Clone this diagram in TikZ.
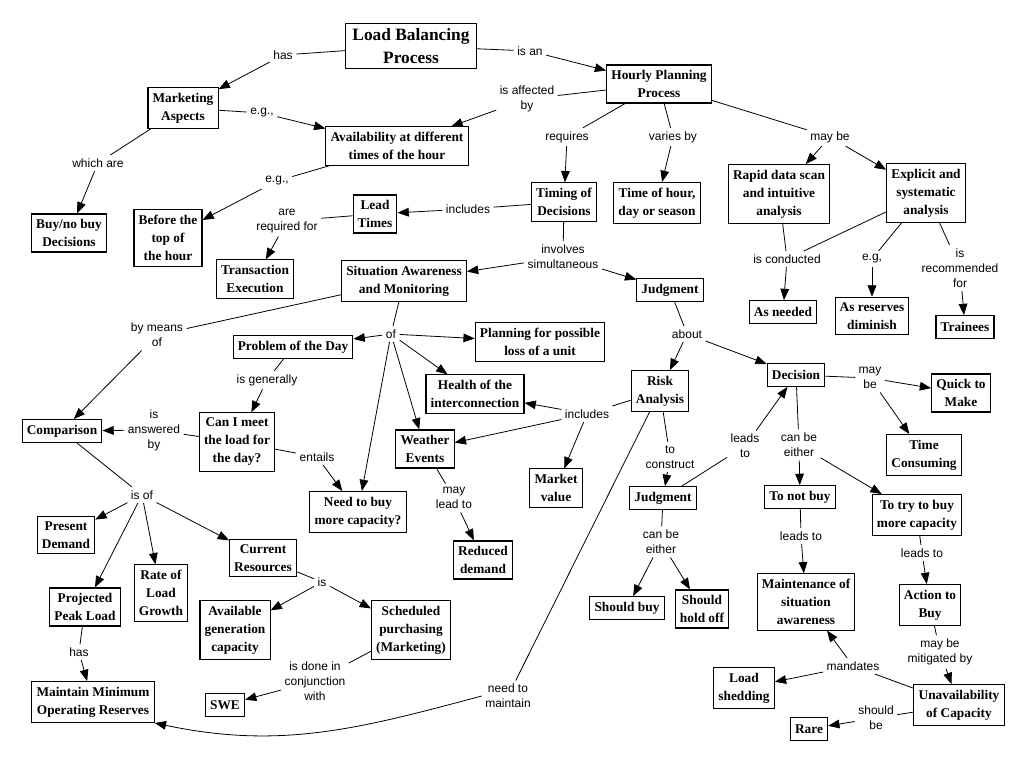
\documentclass[tikz,border=0pt]{standalone}
\usepackage{fontspec}
\setmainfont{Liberation Serif}
\setsansfont{Liberation Sans}
\usepackage{tikz}
\usetikzlibrary{arrows.meta}

\begin{document}
\begin{tikzpicture}[x=0.75pt,y=-0.75pt,
bx/.style={draw, line width=0.8pt, fill=white, align=center, inner xsep=3.5pt, inner ysep=4pt, minimum height=17pt, font=\fontsize{10}{13.5}\selectfont\bfseries},
big/.style={bx, inner xsep=5pt, font=\fontsize{13}{17}\selectfont\bfseries},
lb/.style={align=center, inner sep=2.5pt, font=\fontsize{9}{11.25}\selectfont\sffamily},
ed/.style={line width=0.6pt},
ar/.style={ed, -{Triangle[length=8.5pt,width=6.5pt]}}
]
\useasboundingbox (0,0) rectangle (1025,777);
\node[big] (lbp) at (411,46) {Load Balancing\\Process};
\node[bx] (hpp) at (659,84) {Hourly Planning\\Process};
\node[bx] (mkt) at (183,108) {Marketing\\Aspects};
\node[bx] (avail) at (397,146) {Availability at different\\times of the hour};
\node[bx] (buy) at (69,233) {Buy/no buy\\Decisions};
\node[bx] (btop) at (168,238) {Before the\\top of\\the hour};
\node[bx] (lead) at (375,214) {Lead\\Times};
\node[bx] (trans) at (255,279) {Transaction\\Execution};
\node[bx] (timing) at (564,202) {Timing of\\Decisions};
\node[bx] (tod) at (657,203) {Time of hour,\\day or season};
\node[bx] (rapid) at (779,194) {Rapid data scan\\and intuitive\\analysis};
\node[bx] (expl) at (926,193) {Explicit and\\systematic\\analysis};
\node[bx] (sam) at (404,281) {Situation Awareness\\and Monitoring};
\node[bx] (judg) at (670,290) {Judgment};
\node[bx] (asneed) at (783,312) {As needed};
\node[bx] (asres) at (872,316) {As reserves\\diminish};
\node[bx] (train) at (965,327) {Trainees};
\node[bx] (potd) at (293,347) {Problem of the Day};
\node[bx] (plan) at (540,342) {Planning for possible\\loss of a unit};
\node[bx] (health) at (475,394) {Health of the\\interconnection};
\node[bx] (risk) at (660,391) {Risk\\Analysis};
\node[bx] (dec) at (796,375) {Decision};
\node[bx] (quick) at (961,393) {Quick to\\Make};
\node[bx] (comp) at (62,431) {Comparison};
\node[bx] (canmeet) at (237,442) {Can I meet\\the load for\\the day?};
\node[bx] (weather) at (425,449) {Weather\\Events};
\node[bx] (market) at (556,488) {Market\\value};
\node[bx] (timec) at (924,455) {Time\\Consuming};
\node[bx] (needbuy) at (358,512) {Need to buy\\more capacity?};
\node[bx] (judg2) at (663,498) {Judgment};
\node[bx] (notbuy) at (800,497) {To not buy};
\node[bx] (trybuy) at (917,515) {To try to buy\\more capacity};
\node[bx] (pres) at (66,535) {Present\\Demand};
\node[bx] (curr) at (263,558) {Current\\Resources};
\node[bx] (rate) at (161,593) {Rate of\\Load\\Growth};
\node[bx] (proj) at (85,607) {Projected\\Peak Load};
\node[bx] (availgen) at (235,630) {Available\\generation\\capacity};
\node[bx] (sched) at (411,630) {Scheduled\\purchasing\\(Marketing)};
\node[bx] (reduced) at (483,560) {Reduced\\demand};
\node[bx] (shbuy) at (627,608) {Should buy};
\node[bx] (shhold) at (702,609) {Should\\hold off};
\node[bx] (maint) at (806,602) {Maintenance of\\situation\\awareness};
\node[bx] (action) at (930,605) {Action to\\Buy};
\node[bx] (minres) at (93,702) {Maintain Minimum\\Operating Reserves};
\node[bx] (swe) at (225,705) {SWE};
\node[bx] (shed) at (744,688) {Load\\shedding};
\node[bx] (unavail) at (959,705) {Unavailability\\of Capacity};
\node[bx] (rare) at (809,729) {Rare};

\node[lb] (lhas) at (283,55) {has};
\draw[ed] (lbp)--(lhas); \draw[ar] (lhas)--(mkt);
\node[lb] (lisan) at (530,51) {is an};
\draw[ed] (lbp)--(lisan); \draw[ar] (lisan)--(hpp);
\node[lb] (laff) at (527,99) {is affected\\by};
\draw[ed] (hpp)--(laff); \draw[ar] (laff)--(avail);
\node[lb] (leg1) at (262,113) {e.g.,};
\draw[ed] (mkt)--(leg1); \draw[ar] (leg1)--(avail);
\node[lb] (lwhich) at (98,163) {which are};
\draw[ed] (mkt)--(lwhich); \draw[ar] (lwhich)--(buy);
\node[lb] (leg2) at (277,181) {e.g.,};
\draw[ed] (avail)--(leg2); \draw[ar] (leg2)--(btop);
\node[lb] (lreq) at (287,221) {are\\required for};
\draw[ed] (lead)--(lreq); \draw[ar] (lreq)--(trans);
\node[lb] (lrequires) at (567,137) {requires};
\draw[ed] (hpp)--(lrequires); \draw[ar] (lrequires)--(timing);
\node[lb] (lvaries) at (673,137) {varies by};
\draw[ed] (hpp)--(lvaries); \draw[ar] (lvaries)--(tod);
\node[lb] (lmaybe) at (830,137) {may be};
\draw[ed] (hpp)--(lmaybe); \draw[ar] (lmaybe)--(rapid); \draw[ar] (lmaybe)--(expl);
\node[lb] (lincl) at (468,209) {includes};
\draw[ed] (timing)--(lincl); \draw[ar] (lincl)--(lead);
\node[lb] (linv) at (563,257) {involves\\simultaneous};
\draw[ed] (timing)--(linv); \draw[ar] (linv)--(sam); \draw[ar] (linv)--(judg);
\node[lb] (lcond) at (787,259) {is conducted};
\draw[ed] (rapid)--(lcond); \draw[ed] (expl)--(lcond); \draw[ar] (lcond)--(asneed);
\node[lb] (leg3) at (872,259) {e.g,};
\draw[ed] (expl)--(leg3); \draw[ar] (leg3)--(asres);
\node[lb] (lrec) at (960,268) {is\\recommended\\for};
\draw[ed] (expl)--(lrec); \draw[ar] (lrec)--(train);
\node[lb] (lmeans) at (157,335) {by means\\of};
\draw[ed] (sam)--(lmeans); \draw[ar] (lmeans)--(comp);
\node[lb] (lof) at (391,334) {of};
\draw[ed] (sam)--(lof); \draw[ar] (lof)--(potd); \draw[ar] (lof)--(plan);
\draw[ar] (lof)--(health); \draw[ar] (lof)--(weather); \draw[ar] (lof)--(needbuy);
\node[lb] (lgen) at (267,380) {is generally};
\draw[ed] (potd)--(lgen); \draw[ar] (lgen)--(canmeet);
\node[lb] (lans) at (154,430) {is\\answered\\by};
\draw[ed] (canmeet)--(lans); \draw[ar] (lans)--(comp);
\node[lb] (lent) at (317,457) {entails};
\draw[ed] (canmeet)--(lent); \draw[ar] (lent)--(needbuy);
\node[lb] (lisof) at (142,495) {is of};
\draw[ed] (comp)--(lisof); \draw[ar] (lisof)--(pres); \draw[ar] (lisof)--(proj);
\draw[ar] (lisof)--(rate); \draw[ar] (lisof)--(curr);
\node[lb] (lis) at (322,582) {is};
\draw[ed] (curr)--(lis); \draw[ar] (lis)--(availgen); \draw[ar] (lis)--(sched);
\node[lb] (lhas2) at (79,652) {has};
\draw[ed] (proj)--(lhas2); \draw[ar] (lhas2)--(minres);
\node[lb] (ldone) at (315,681) {is done in\\conjunction\\with};
\draw[ed] (sched)--(ldone); \draw[ar] (ldone)--(swe);
\node[lb] (lmay) at (454,498) {may\\lead to};
\draw[ed] (weather)--(lmay); \draw[ar] (lmay)--(reduced);
\node[lb] (lincl2) at (587,414) {includes};
\draw[ed] (risk)--(lincl2); \draw[ar] (lincl2)--(health); \draw[ar] (lincl2)--(weather);
\draw[ar] (lincl2)--(market);
\node[lb] (lcons) at (670,457) {to\\construct};
\draw[ed] (risk)--(lcons); \draw[ar] (lcons)--(judg2);
\node[lb] (labout) at (687,334) {about};
\draw[ed] (judg)--(labout); \draw[ar] (labout)--(risk); \draw[ar] (labout)--(dec);
\node[lb] (lleads) at (745,446) {leads\\to};
\draw[ed] (judg2)--(lleads); \draw[ar] (lleads)--(dec);
\node[lb] (leither) at (799,445) {can be\\either};
\draw[ed] (dec)--(leither); \draw[ar] (leither)--(notbuy); \draw[ar] (leither)--(trybuy);
\node[lb] (lmaybe2) at (870,378) {may\\be};
\draw[ed] (dec)--(lmaybe2); \draw[ar] (lmaybe2)--(quick); \draw[ar] (lmaybe2)--(timec);
\node[lb] (leither2) at (661,542) {can be\\either};
\draw[ed] (judg2)--(leither2); \draw[ar] (leither2)--(shbuy); \draw[ar] (leither2)--(shhold);
\node[lb] (lleads2) at (801,536) {leads to};
\draw[ed] (notbuy)--(lleads2); \draw[ar] (lleads2)--(maint);
\node[lb] (lleads3) at (922,553) {leads to};
\draw[ed] (trybuy)--(lleads3); \draw[ar] (lleads3)--(action);
\node[lb] (lmit) at (940,652) {may be\\mitigated by};
\draw[ed] (action)--(lmit); \draw[ar] (lmit)--(unavail);
\node[lb] (lmand) at (853,666) {mandates};
\draw[ed] (unavail)--(lmand); \draw[ar] (lmand)--(maint); \draw[ar] (lmand)--(shed);
\node[lb] (lshould) at (876,718) {should\\be};
\draw[ed] (unavail)--(lshould); \draw[ar] (lshould)--(rare);
\node[lb] (lneed) at (508,696) {need to\\maintain};
\draw[ed] (risk)--(lneed);
\draw[ar] (lneed.west) to[out=195,in=-12] (minres.south east);
\end{tikzpicture}
\end{document}
